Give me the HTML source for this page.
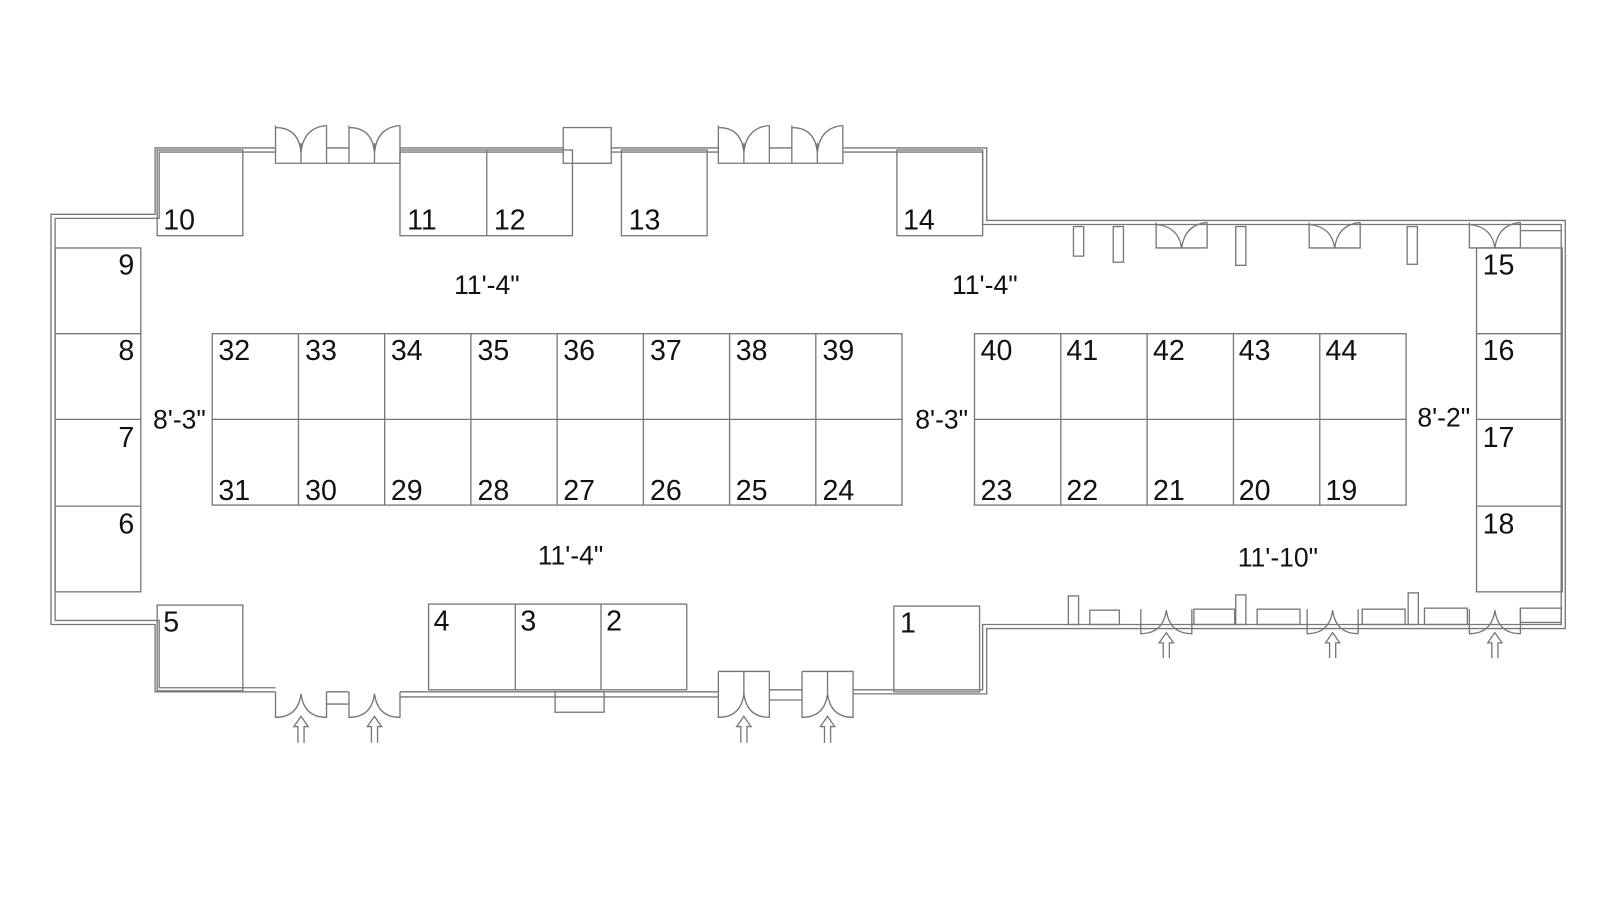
<!DOCTYPE html>
<html><head><meta charset="utf-8"><style>
html,body{margin:0;padding:0;background:#fff;}
svg{display:block}
text{font-family:"Liberation Sans",sans-serif;fill:#111;}
.n{font-size:28px}
.d{font-size:26px}
</style></head><body>
<svg width="1600" height="900" viewBox="0 0 1600 900" xmlns="http://www.w3.org/2000/svg">
<g transform="scale(1.0204)">
<g fill="none" stroke="#777" stroke-width="1.3">
<path d="M270,145 H152 V210 H50 V612 H152 V678 H270"/>
<path d="M270,149 H156 V214 H54 V608 H156 V674 H270"/>
<path d="M320,145 H342 M320,160 H342"/>
<path d="M392,145 H552 M392,149 H552"/>
<path d="M599,145 H704 M599,149 H704"/>
<path d="M754,145 H776 M754,160 H776"/>
<path d="M826,145 H967 V216 H1534 V616 H967 V680 H836"/>
<path d="M826,149 H963 V220 H1530 V612 H963 V676 H836"/>
<path d="M754,676 H786 M754,686 H786"/>
<path d="M392,678 H704 M392,683 H704"/>
<path d="M320,678 H342 M320,690 H342"/>
<rect x="552" y="125" width="47" height="35"/>
<rect x="544" y="678" width="48" height="20"/>
<rect x="154" y="147" width="84" height="84"/>
<rect x="392" y="147" width="169" height="84"/><line x1="477" y1="147" x2="477" y2="231"/>
<rect x="609" y="147" width="84" height="84"/>
<rect x="879" y="147" width="84" height="84"/>
<rect x="54" y="243" width="84" height="337"/>
<path d="M54,327 H138 M54,411 H138 M54,496 H138"/>
<rect x="1447" y="243" width="84" height="337"/>
<path d="M1447,327 H1531 M1447,411 H1531 M1447,496 H1531"/>
<rect x="154" y="593" width="84" height="84"/>
<rect x="420" y="592" width="253" height="84"/><path d="M505,592 V676 M589,592 V676"/>
<rect x="876" y="594" width="84" height="84"/>
<rect x="208" y="327" width="676" height="168"/>
<path d="M208,411 H884 M292.5,327 V495 M377,327 V495 M461.5,327 V495 M546,327 V495 M630.5,327 V495 M715,327 V495 M799.5,327 V495"/>
<rect x="955" y="327" width="423" height="168"/>
<path d="M955,411 H1378 M1039.6,327 V495 M1124.2,327 V495 M1208.8,327 V495 M1293.4,327 V495"/>
<g id="td">
<path d="M270,123 V160 H320 V123 M295,140 V160 M270,125 Q293,125 295,150 M320,123 Q297,125 295,150"/>
</g>
<use href="#td" transform="translate(72,0)"/>
<use href="#td" transform="translate(434,0)"/>
<use href="#td" transform="translate(506,0)"/>
<g id="trd"><path d="M1133,218 V243 H1183 V218 M1133,220 Q1155,222 1158,243 M1183,218 Q1161,220 1158,243"/></g>
<use href="#trd" transform="translate(150,0)"/>
<use href="#trd" transform="translate(307,0)"/>
<rect x="1052" y="222" width="10" height="29"/>
<rect x="1091" y="222" width="10" height="35"/>
<rect x="1211" y="222" width="10" height="38"/>
<rect x="1379" y="222" width="10" height="37"/>
<path d="M1490,226 H1530"/>
<g id="brd"><path d="M1118,597 V621 Q1140,621 1143,598 Q1146,621 1168,621 V597"/>
<path d="M1140,645 V630 H1136 L1143,620 L1150,630 H1146 V645"/></g>
<use href="#brd" transform="translate(163,0)"/>
<use href="#brd" transform="translate(322,0)"/>
<rect x="1047" y="584" width="10" height="28"/>
<rect x="1068" y="598" width="29" height="14"/>
<rect x="1170" y="597" width="40" height="15"/>
<rect x="1211" y="583" width="10" height="29"/>
<rect x="1232" y="597" width="42" height="15"/>
<rect x="1335" y="597" width="42" height="15"/>
<rect x="1380" y="581" width="10" height="31"/>
<rect x="1396" y="596" width="42" height="16"/>
<rect x="1490" y="596" width="40" height="14"/>
<g id="bld"><path d="M270,678 V703 Q292,703 295,680 Q298,703 320,703 V678"/>
<path d="M292,728 V712 H288 L295,702 L302,712 H298 V728"/></g>
<use href="#bld" transform="translate(72,0)"/>
<g id="bmd"><path d="M704,658 V703 Q726,703 729,680 Q732,703 754,703 V658 H704 M729,658 V680"/>
<path d="M726,728 V712 H722 L729,702 L736,712 H732 V728"/></g>
<use href="#bmd" transform="translate(82,0)"/>
</g>
<g class="n">
<text x="160" y="225">10</text><text x="399" y="225">11</text><text x="484" y="225">12</text>
<text x="616" y="225">13</text><text x="885" y="225">14</text>
<text x="116" y="269">9</text><text x="116" y="353">8</text><text x="116" y="438">7</text><text x="116" y="523">6</text>
<text x="1453" y="269">15</text><text x="1453" y="353">16</text><text x="1453" y="438">17</text><text x="1453" y="523">18</text>
<text x="160" y="619">5</text><text x="425" y="618">4</text><text x="510" y="618">3</text><text x="594" y="618">2</text><text x="882" y="620">1</text>
<text x="214" y="353">32</text><text x="299" y="353">33</text><text x="383" y="353">34</text><text x="468" y="353">35</text><text x="552" y="353">36</text><text x="637" y="353">37</text><text x="721" y="353">38</text><text x="806" y="353">39</text>
<text x="214" y="490">31</text><text x="299" y="490">30</text><text x="383" y="490">29</text><text x="468" y="490">28</text><text x="552" y="490">27</text><text x="637" y="490">26</text><text x="721" y="490">25</text><text x="806" y="490">24</text>
<text x="961" y="353">40</text><text x="1045" y="353">41</text><text x="1130" y="353">42</text><text x="1214" y="353">43</text><text x="1299" y="353">44</text>
<text x="961" y="490">23</text><text x="1045" y="490">22</text><text x="1130" y="490">21</text><text x="1214" y="490">20</text><text x="1299" y="490">19</text>
</g>
<g class="d">
<text x="445" y="288">11'-4"</text><text x="933" y="288">11'-4"</text>
<text x="150" y="420">8'-3"</text><text x="897" y="420">8'-3"</text><text x="1389" y="418">8'-2"</text>
<text x="527" y="553">11'-4"</text><text x="1213" y="555">11'-10"</text>
</g>
</g>
</svg>
</body></html>
